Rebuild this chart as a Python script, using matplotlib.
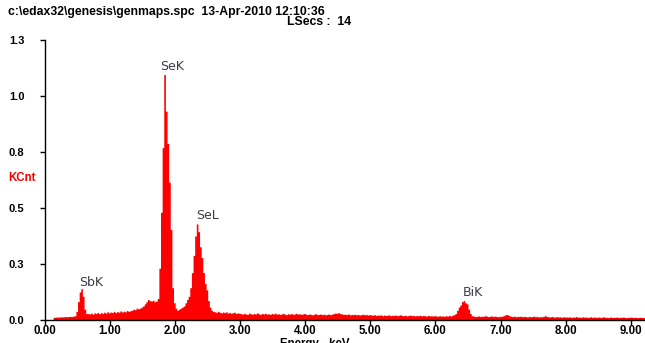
import numpy as np
import matplotlib
matplotlib.use("Agg")
import matplotlib.pyplot as plt

# ---- data (KCnt per 0.025 keV channel, starting at 0.000 keV) ----
channel_width = 0.025
counts = [
    0, 0, 0, 0, 0,
    0.012, 0.013, 0.014, 0.013, 0.015, 0.014, 0.015, 0.016, 0.015, 0.016, 0.017, 0.016, 0.018,
    0.02, 0.04, 0.085, 0.13, 0.145, 0.11, 0.05, 0.03,
    0.03, 0.028, 0.032, 0.027, 0.033, 0.03, 0.035, 0.029, 0.034, 0.031, 0.036, 0.032, 0.038,
    0.033, 0.037, 0.035, 0.04, 0.034, 0.039, 0.036, 0.042, 0.037, 0.041, 0.038, 0.044, 0.04,
    0.043, 0.045, 0.05, 0.048, 0.055, 0.052,
    0.055, 0.06, 0.065, 0.075, 0.085, 0.095, 0.09, 0.088, 0.092, 0.085, 0.088, 0.1,
    0.24, 0.5, 0.8, 1.14, 0.97, 0.82, 0.64, 0.42, 0.15, 0.08, 0.055, 0.045,
    0.05, 0.055, 0.06, 0.065, 0.08, 0.095, 0.11, 0.15, 0.22, 0.3, 0.39, 0.446, 0.41, 0.34,
    0.29, 0.22, 0.17, 0.14, 0.09, 0.06, 0.045, 0.04,
    0.038, 0.035, 0.04, 0.036, 0.033, 0.037, 0.034, 0.038, 0.032, 0.035, 0.031, 0.034, 0.036,
    0.03, 0.033, 0.031,
    0.03, 0.027, 0.031, 0.028, 0.026, 0.032, 0.029, 0.027, 0.03, 0.028,
    0.033, 0.029, 0.026, 0.03, 0.028, 0.031, 0.027, 0.029, 0.026, 0.03,
    0.028, 0.032, 0.027, 0.029, 0.026, 0.028, 0.031, 0.027, 0.025, 0.029,
    0.027, 0.03, 0.026, 0.028, 0.031, 0.027, 0.029, 0.026, 0.028, 0.03,
    0.027, 0.025, 0.028, 0.026, 0.024, 0.027, 0.029, 0.025, 0.026, 0.028,
    0.025, 0.027, 0.024, 0.026, 0.028, 0.025, 0.027, 0.03, 0.032, 0.031,
    0.034, 0.03, 0.028, 0.026, 0.027, 0.025, 0.028, 0.024, 0.026, 0.025,
    0.027, 0.024, 0.026, 0.023, 0.025, 0.027, 0.024, 0.026, 0.023, 0.025,
    0.024, 0.022, 0.025, 0.021, 0.023, 0.022, 0.024, 0.02, 0.023, 0.021,
    0.022, 0.024, 0.02, 0.022, 0.021, 0.023, 0.02, 0.022, 0.024, 0.021,
    0.02, 0.022, 0.019, 0.021, 0.023, 0.02, 0.022, 0.019, 0.021, 0.02,
    0.022, 0.019, 0.021, 0.02, 0.018, 0.021, 0.019, 0.02, 0.018, 0.02,
    0.019, 0.017, 0.02, 0.018, 0.019, 0.017, 0.02, 0.018, 0.021, 0.019, 0.022, 0.025,
    0.03, 0.045, 0.06, 0.07, 0.085, 0.09, 0.08, 0.075, 0.05, 0.03, 0.02,
    0.018, 0.016, 0.017, 0.019, 0.016, 0.018, 0.017, 0.02, 0.018, 0.016, 0.017, 0.019, 0.016,
    0.018, 0.017, 0.015, 0.017,
    0.017, 0.019, 0.022, 0.026, 0.024, 0.02, 0.017, 0.016, 0.018, 0.015,
    0.017, 0.016, 0.018, 0.015, 0.017, 0.016, 0.014, 0.017, 0.015, 0.016,
    0.018, 0.015, 0.017, 0.014, 0.016, 0.015, 0.017, 0.02, 0.016, 0.015,
    0.014, 0.016, 0.015, 0.013, 0.016, 0.014, 0.015, 0.013, 0.015, 0.014,
    0.014, 0.013, 0.015, 0.012, 0.014, 0.013, 0.016, 0.013, 0.014, 0.012,
    0.015, 0.013, 0.014, 0.012, 0.013, 0.015, 0.012, 0.014, 0.013, 0.012,
    0.014, 0.012, 0.013, 0.015, 0.012, 0.013, 0.011, 0.014, 0.012, 0.013,
    0.012, 0.014, 0.011, 0.013, 0.012, 0.014, 0.012, 0.011, 0.013, 0.012,
    0.014, 0.011, 0.013, 0.012, 0.011, 0.013, 0.012, 0.011, 0.012,
]

peak_names = ["SbK", "SeK", "SeL", "BiK"]
peak_label_x = [0.707, 1.95, 2.49, 6.57]
peak_label_y = [0.172, 1.179, 0.483, 0.13]

x_ticks = [0, 1, 2, 3, 4, 5, 6, 7, 8, 9]
x_tick_labels = ["0.00", "1.00", "2.00", "3.00", "4.00", "5.00", "6.00", "7.00", "8.00", "9.00"]
y_ticks = [0.0, 0.26, 0.52, 0.78, 1.04, 1.3]
y_tick_labels = ["0.0", "0.3", "0.5", "0.8", "1.0", "1.3"]

title_text = "c:\\edax32\\genesis\\genmaps.spc  13-Apr-2010 12:10:36"
lsecs_text = "LSecs :  14"

# ---- drawing ----
plt.rcParams["font.family"] = ["Liberation Sans", "DejaVu Sans"]
fig = plt.figure(figsize=(6.45, 3.43), dpi=100)
ax = fig.add_axes([45 / 645, 1 - 320 / 343, 1 - 45 / 645, (320 - 40) / 343])

counts_arr = np.array(counts)
edges = channel_width * np.arange(len(counts_arr) + 1)
vals = np.append(counts_arr, counts_arr[-1])
ax.fill_between(edges, 0, vals, step="post", color="#ff0000", linewidth=0)

ax.set_xlim(0, 9.22)
ax.set_ylim(0, 1.3)
for s in ["top", "right"]:
    ax.spines[s].set_visible(False)
ax.spines["left"].set_linewidth(1.0)
ax.spines["bottom"].set_linewidth(1.0)

ax.set_xticks(x_ticks)
ax.set_xticklabels(x_tick_labels, fontweight="bold", fontsize=8.3)
ax.set_yticks(y_ticks)
ax.set_yticklabels(y_tick_labels, fontweight="bold", fontsize=8)
ax.tick_params(axis="x", direction="out", length=3.5, width=1, pad=0.3)
ax.tick_params(axis="y", direction="out", length=3.5, width=1, pad=22.5)
for lab in ax.get_yticklabels():
    lab.set_horizontalalignment("left")

for name, px, py in zip(peak_names, peak_label_x, peak_label_y):
    ax.text(px, py, name, ha="center", va="center", fontsize=9,
            color="#3a3a48", family="DejaVu Sans")

fig.text(8 / 645, 1 - 178 / 343, "KCnt", color="#ff0000", fontweight="bold",
         fontsize=8.3, ha="left", va="center")
fig.text(315 / 645, 1 - 337.5 / 343, "Energy - keV", fontweight="bold",
         fontsize=8.3, ha="center", va="top")
fig.text(8 / 645, 1 - 12 / 343, title_text, fontweight="bold", fontsize=8.8,
         ha="left", va="center")
fig.text(287 / 645, 1 - 22 / 343, lsecs_text, fontweight="bold", fontsize=8.8,
         ha="left", va="center")

fig.savefig("out.png", dpi=100)
